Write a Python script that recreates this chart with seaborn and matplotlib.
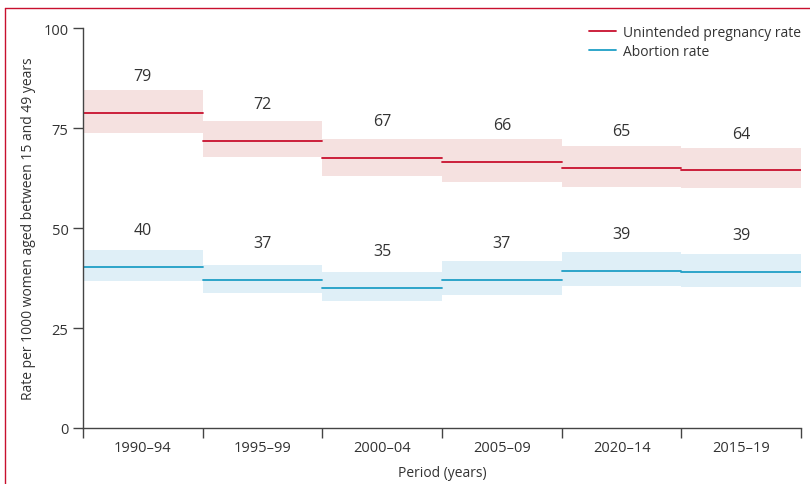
import numpy as np
import pandas as pd
import matplotlib.pyplot as plt
from matplotlib.lines import Line2D
import seaborn as sns

periods = ["1990–94", "1995–99", "2000–04", "2005–09", "2020–14", "2015–19"]

unintended = [78.8, 71.8, 67.6, 66.5, 65.1, 64.4]
unintended_lo = [73.8, 67.8, 63.1, 61.6, 60.3, 60.1]
unintended_hi = [84.5, 76.8, 72.3, 72.3, 70.5, 70.0]
unintended_lbl = [79, 72, 67, 66, 65, 64]

abortion = [40.2, 37.0, 35.0, 37.1, 39.3, 39.1]
abortion_lo = [36.8, 33.8, 31.8, 33.3, 35.5, 35.3]
abortion_hi = [44.5, 40.8, 39.0, 41.8, 44.0, 43.5]
abortion_lbl = [40, 37, 35, 37, 39, 39]

RED = "#c8102e"
RED_FILL = "#f5e1e0"
BLUE = "#1f9fc6"
BLUE_FILL = "#dfeff7"
TXT = "#333333"

sns.set_theme(style="ticks")
plt.rcParams["font.family"] = ["Open Sans", "DejaVu Sans"]

# one short segment per period so that steps have no vertical connectors
rows = []
for name, vals in [("Unintended pregnancy rate", unintended), ("Abortion rate", abortion)]:
    for i, v in enumerate(vals):
        rows.append({"x": i, "y": v, "period": i, "series": name})
        rows.append({"x": i + 1, "y": v, "period": i, "series": name})
df = pd.DataFrame(rows)

fig = plt.figure(figsize=(8.1, 4.85), dpi=100)
ax = fig.add_axes([0.1025, 0.1155, 0.8865, 0.8245])

for i in range(len(periods)):
    ax.fill_between([i, i + 1], unintended_lo[i], unintended_hi[i], color=RED_FILL, lw=0)
    ax.fill_between([i, i + 1], abortion_lo[i], abortion_hi[i], color=BLUE_FILL, lw=0)
    ax.text(i + 0.5, unintended[i] + 9.2, str(unintended_lbl[i]), ha="center", va="center",
            fontsize=11.5, color=TXT)
    ax.text(i + 0.5, abortion[i] + 9.2, str(abortion_lbl[i]), ha="center", va="center",
            fontsize=11.5, color=TXT)

sns.lineplot(data=df, x="x", y="y", hue="series", units="period", estimator=None,
             palette={"Unintended pregnancy rate": RED, "Abortion rate": BLUE},
             linewidth=1.3, ax=ax)

ax.set_xlim(0, 6)
ax.set_ylim(0, 100)
ax.set_yticks([0, 25, 50, 75, 100])
ax.set_xticks(range(7))
ax.set_xticklabels([])
ax.set_xticks(np.arange(6) + 0.5, minor=True)
ax.set_xticklabels(periods, minor=True)
ax.tick_params(axis="x", which="minor", length=0, pad=9, labelsize=10.5, labelcolor=TXT)
ax.tick_params(axis="x", which="major", length=7, width=1, color="#444444")
ax.tick_params(axis="y", length=7, width=1, color="#444444", labelsize=10.5, labelcolor=TXT)
for s in ["left", "bottom"]:
    ax.spines[s].set_color("#444444")
    ax.spines[s].set_linewidth(1)
sns.despine(ax=ax)

ax.set_xlabel("Period (years)", fontsize=10, color=TXT, labelpad=7)
ax.set_ylabel("Rate per 1000 women aged between 15 and 49 years", fontsize=10, color=TXT,
              labelpad=5)

ax.legend(loc="upper right", bbox_to_anchor=(1.017, 1.04), frameon=False, fontsize=10,
          handlelength=1.9, handletextpad=0.5, labelspacing=0.3, title=None,
          labelcolor=TXT)

# journal-style frame lines at top and left
fig.add_artist(Line2D([0.006, 1.0], [0.981, 0.981], color=RED, lw=1))
fig.add_artist(Line2D([0.006, 0.006], [0.0, 0.981], color=RED, lw=1))

fig.savefig("out.png", dpi=100)
